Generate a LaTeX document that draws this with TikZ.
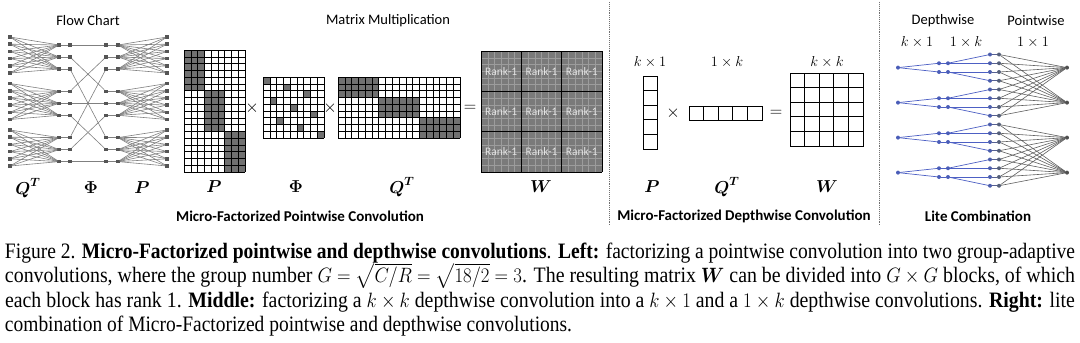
\documentclass[tikz,border=0pt]{standalone}
\usepackage[no-math]{fontspec}
\usepackage{amsmath}
\usepackage{graphicx}
\setmainfont{Carlito}
\newfontfamily\capfont{Liberation Serif}
\definecolor{fgnode}{HTML}{555555}
\definecolor{fgline}{HTML}{808080}
\definecolor{shadec}{HTML}{707070}
\definecolor{wfill}{HTML}{7A7A7A}
\definecolor{wgrid}{HTML}{9C9C9C}
\definecolor{rankc}{HTML}{E4E4E4}
\definecolor{dwblue}{HTML}{4D60C4}
\definecolor{dwnode}{HTML}{4A5DB8}
\definecolor{mixnode}{HTML}{55607A}
\definecolor{pwline}{HTML}{606060}
\definecolor{pwnode}{HTML}{505050}
\definecolor{sepc}{HTML}{707070}
\tikzset{
  every node/.style={inner sep=0pt,outer sep=0pt},
  ttl/.style={font=\fontsize{14.5}{17}\selectfont},
  btl/.style={font=\fontsize{15}{17}\selectfont\bfseries},
  mlab/.style={font=\fontsize{16.5}{18}\selectfont},
  dimlab/.style={font=\fontsize{15}{17}\selectfont},
  oplab/.style={font=\fontsize{18}{20}\selectfont},
  fnode/.style={rectangle,fill=fgnode,minimum size=3.6pt},
  fline/.style={draw=fgline,line width=0.6pt},
  gridl/.style={draw=black,line width=0.5pt},
  celld/.style={fill=shadec},
  mline/.style={draw=black,line width=0.9pt},
  rk/.style={font=\fontsize{11.5}{12}\selectfont,text=rankc},
  sepline/.style={draw=sepc,line width=0.9pt,densely dotted},
  dnode/.style={circle,fill=dwnode,minimum size=4pt},
  mnode/.style={circle,fill=mixnode,minimum size=4pt},
  pnode/.style={circle,fill=pwnode,minimum size=4pt},
  dline/.style={draw=dwblue,line width=0.7pt},
  pline/.style={draw=pwline,line width=0.6pt},
  capl/.style={anchor=base west,font=\capfont\fontsize{22}{24}\selectfont},
}
\begin{document}
\begin{tikzpicture}[x=1pt,y=-1pt]
\fill[white] (0,0) rectangle (1080,343);
\path[use as bounding box] (0,0) rectangle (1080,343);

% ================= Flow chart =================
\node[ttl] (tflow) at (88,21) {Flow Chart};
\foreach \g in {0,1,2}{
  \foreach \k in {0,...,5}{
    \node[fnode] (fa\g\k) at (10,{37+46.5*\g+7.2*\k}) {};
    \node[fnode] (ff\g\k) at (167,{37+46.5*\g+7.2*\k}) {};
  }
}
\foreach \i in {0,...,8}{
  \pgfmathtruncatemacro\gg{int(\i/3)}
  \pgfmathtruncatemacro\kk{mod(\i,3)}
  \pgfmathsetmacro\yy{45+46.3*\gg+12*\kk}
  \node[fnode] (fb\i) at (59,\yy) {};
  \node[fnode] (fc\i) at (70,\yy) {};
  \node[fnode] (fd\i) at (106,\yy) {};
  \node[fnode] (fe\i) at (118,\yy) {};
}
\foreach \g in {0,1,2}{
  \foreach \k in {0,...,5}{
    \foreach \m in {0,1,2}{
      \pgfmathtruncatemacro\ii{3*\g+\m}
      \draw[fline] (fa\g\k) -- (fb\ii);
      \draw[fline] (fe\ii) -- (ff\g\k);
    }
  }
}
\foreach \i in {0,...,8}{
  \pgfmathtruncatemacro\pp{3*mod(\i,3)+int(\i/3)}
  \draw[fline] (fb\i) -- (fc\i);
  \draw[fline] (fc\i) -- (fd\pp);
  \draw[fline] (fd\i) -- (fe\i);
}
\node[mlab] (lq1) at (28,188) {$\boldsymbol{Q}^{\boldsymbol{T}}$};
\node[mlab] (lf1) at (91,188) {$\boldsymbol{\Phi}$};
\node[mlab] (lp1) at (142,188) {$\boldsymbol{P}$};

% ================= Matrix multiplication =================
\node[ttl] (tmat) at (388,21) {Matrix Multiplication};
% P : 9 cols x 18 rows
\def\cP{6.78}
\foreach \b in {0,1,2}
  \fill[celld] ({184+3*\b*\cP},{50+6*\b*\cP}) rectangle ++({3*\cP},{6*\cP});
\foreach \c in {0,...,9} \draw[gridl] ({184+\c*\cP},50) -- ++(0,{18*\cP});
\foreach \r in {0,...,18} \draw[gridl] (184,{50+\r*\cP}) -- ++({9*\cP},0);
% Phi : 9 x 9
\def\cF{6.75}
\foreach \r in {0,...,8}{
  \pgfmathtruncatemacro\cc{3*mod(\r,3)+int(\r/3)}
  \fill[celld] ({263+\cc*\cF},{77+\r*\cF}) rectangle ++(\cF,\cF);
}
\foreach \c in {0,...,9} \draw[gridl] ({263+\c*\cF},77) -- ++(0,{9*\cF});
\foreach \r in {0,...,9} \draw[gridl] (263,{77+\r*\cF}) -- ++({9*\cF},0);
% Q^T : 18 cols x 9 rows
\def\cQ{6.78}
\foreach \b in {0,1,2}
  \fill[celld] ({338+6*\b*\cQ},{77+3*\b*\cQ}) rectangle ++({6*\cQ},{3*\cQ});
\foreach \c in {0,...,18} \draw[gridl] ({338+\c*\cQ},77) -- ++(0,{9*\cQ});
\foreach \r in {0,...,9} \draw[gridl] (338,{77+\r*\cQ}) -- ++({18*\cQ},0);
% W
\fill[wfill] (481,51) rectangle (602,172);
\foreach \c in {1,...,17} \draw[wgrid,line width=0.35pt] ({481+\c*121/18},51) -- ++(0,121);
\foreach \r in {1,...,17} \draw[wgrid,line width=0.35pt] (481,{51+\r*121/18}) -- ++(121,0);
\foreach \c in {0,...,3} \draw[black,line width=1pt] ({481+\c*121/3},51) -- ++(0,121);
\foreach \r in {0,...,3} \draw[black,line width=1pt] (481,{51+\r*121/3}) -- ++(121,0);
\foreach \r in {0,1,2}{
  \foreach \c in {0,1,2}{
    \node[rk] (rk\r\c) at ({481+(\c+0.5)*121/3},{51+(\r+0.5)*121/3}) {Rank-1};
  }
}
\node[oplab] (x1) at (252,108) {$\times$};
\node[oplab] (x2) at (330,108) {$\times$};
\node[oplab] (eq1) at (470,108) {$=$};
\node[mlab] (lp2) at (214,187) {$\boldsymbol{P}$};
\node[mlab] (lf2) at (296,187) {$\boldsymbol{\Phi}$};
\node[mlab] (lq2) at (402,187) {$\boldsymbol{Q}^{\boldsymbol{T}}$};
\node[mlab] (lw2) at (541,187) {$\boldsymbol{W}$};
\node[btl] (tpw) at (300,216) {Micro-Factorized Pointwise Convolution};

% separators
\draw[sepline] (609,2) -- (609,226);
\draw[sepline] (879,2) -- (879,226);

% ================= Depthwise =================
\def\cD{14.6}
\foreach \r in {0,...,4} \draw[mline] (643,{76+\r*\cD}) rectangle ++(\cD,\cD);
\foreach \c in {0,...,4} \draw[mline] ({689+\c*\cD},106) rectangle ++(\cD,\cD);
\foreach \r in {0,...,4}{
  \foreach \c in {0,...,4}{
    \draw[mline] ({790+\c*\cD},{73+\r*\cD}) rectangle ++(\cD,\cD);
  }
}
\node[dimlab] (dk1) at (650,62) {$k\times 1$};
\node[dimlab] (d1k) at (727,62) {$1\times k$};
\node[dimlab] (dkk) at (827,62) {$k\times k$};
\node[oplab] (x3) at (673,113) {$\times$};
\node[oplab] (eq2) at (776,113) {$=$};
\node[mlab] (lp3) at (652,187) {$\boldsymbol{P}$};
\node[mlab] (lq3) at (727,187) {$\boldsymbol{Q}^{\boldsymbol{T}}$};
\node[mlab] (lw3) at (827,187) {$\boldsymbol{W}$};
\node[btl] (tdw) at (744,216) {Micro-Factorized Depthwise Convolution};

% ================= Lite combination =================
\node[ttl] (tdep) at (943,21) {Depthwise};
\node[ttl] (tpnt) at (1036,21) {Pointwise};
\node[dimlab] (lk1) at (917,42) {$k\times 1$};
\node[dimlab] (l1k) at (966,42) {$1\times k$};
\node[dimlab] (l11) at (1033,42) {$1\times 1$};
\foreach \j in {0,...,15}{
  \node[mnode,fill=dwnode!80!mixnode] (lc\j) at (990,{54.5+8.75*\j}) {};
  \node[mnode] (ld\j) at (999,{54.5+8.75*\j}) {};
}
\foreach \g in {0,...,3}{
  \pgfmathsetmacro\cy{54.5+8.75*(4*\g+1.5)}
  \node[dnode] (li\g) at (898,\cy) {};
  \node[pnode] (lo\g) at (1067,\cy) {};
  \foreach \s in {0,1}{
    \node[dnode] (la\g\s) at (939,{\cy+(\s-0.5)*8.75}) {};
    \node[dnode] (lb\g\s) at (948,{\cy+(\s-0.5)*8.75}) {};
    \draw[dline] (li\g) -- (la\g\s);
    \draw[dline] (la\g\s) -- (lb\g\s);
    \foreach \t in {0,1}{
      \pgfmathtruncatemacro\jj{4*\g+2*\s+\t}
      \draw[dline] (lb\g\s) -- (lc\jj);
    }
  }
}
\foreach \j in {0,...,15}{
  \draw[pline,draw=dwblue!50!pwline] (lc\j) -- (ld\j);
  \pgfmathtruncatemacro\oa{\j<8 ? 0 : 2}
  \pgfmathtruncatemacro\ob{\oa+1}
  \draw[pline] (ld\j) -- (lo\oa);
  \draw[pline] (ld\j) -- (lo\ob);
}
\node[btl] (tlite) at (978,216) {Lite Combination};

% ================= Caption =================
\node[capl] (cap1) at (5,258) {\resizebox{1070pt}{\height}{Figure 2. \textbf{Micro-Factorized pointwise and depthwise convolutions}. \textbf{Left:} factorizing a pointwise convolution into two group-adaptive}};
\node[capl] (cap2) at (5,282.5) {\resizebox{1070pt}{\height}{convolutions, where the group number $G=\sqrt{C/R}=\sqrt{18/2}=3$. The resulting matrix $\boldsymbol{W}$ can be divided into $G\times G$ blocks, of which}};
\node[capl] (cap3) at (5,307) {\resizebox{1070pt}{\height}{each block has rank 1. \textbf{Middle:} factorizing a $k\times k$ depthwise convolution into a $k\times 1$ and a $1\times k$ depthwise convolutions. \textbf{Right:} lite}};
\node[capl] (cap4) at (5,331) {\resizebox{567pt}{\height}{combination of Micro-Factorized pointwise and depthwise convolutions.}};
\end{tikzpicture}
\end{document}
